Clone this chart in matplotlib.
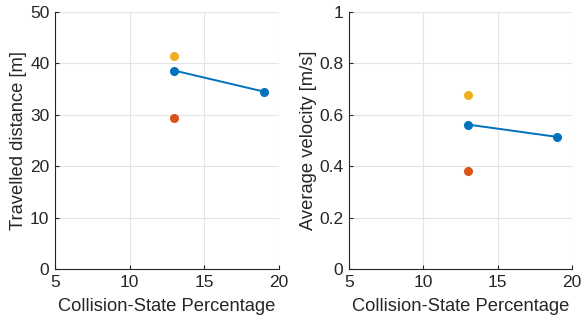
import matplotlib
matplotlib.use("Agg")
import matplotlib.pyplot as plt

# collision-state percentage vs. travelled distance / average velocity
blue_x = [13, 19]
blue_dist = [38.6, 34.5]
blue_vel = [0.562, 0.514]

yellow_x = [13]
yellow_dist = [41.4]
yellow_vel = [0.676]

red_x = [13]
red_dist = [29.4]
red_vel = [0.383]

c_blue = "#0072BD"
c_red = "#D95319"
c_yellow = "#EDB120"

plt.rcParams["font.family"] = ["Liberation Sans", "DejaVu Sans"]

fig = plt.figure(figsize=(5.84, 3.27), dpi=100)
W, H = 584, 327
ax1 = fig.add_axes([55 / W, 1 - 269 / H, 224 / W, 257 / H])
ax2 = fig.add_axes([349 / W, 1 - 269 / H, 223 / W, 257 / H])


def style(ax):
    ax.set_xlim(5, 20)
    ax.set_xticks([5, 10, 15, 20])
    ax.grid(True, color="#e3e3e3", linewidth=0.8)
    ax.set_axisbelow(True)
    for s in ["top", "right"]:
        ax.spines[s].set_visible(False)
    for s in ["left", "bottom"]:
        ax.spines[s].set_color("#262626")
        ax.spines[s].set_linewidth(0.8)
    ax.tick_params(direction="in", length=3, color="#262626",
                   labelcolor="#262626", labelsize=12.5, pad=4)
    ax.set_xlabel("Collision-State Percentage", color="#262626",
                  fontsize=13.2, labelpad=6)


ax1.plot(blue_x, blue_dist, "-o", color=c_blue, lw=1.4, ms=5.5)
ax1.plot(yellow_x, yellow_dist, "o", color=c_yellow, ms=5.5)
ax1.plot(red_x, red_dist, "o", color=c_red, ms=5.5)
style(ax1)
ax1.set_ylim(0, 50)
ax1.set_yticks([0, 10, 20, 30, 40, 50])
ax1.set_ylabel("Travelled distance [m]", color="#262626", fontsize=13.2,
               labelpad=2)

ax2.plot(blue_x, blue_vel, "-o", color=c_blue, lw=1.4, ms=5.5)
ax2.plot(yellow_x, yellow_vel, "o", color=c_yellow, ms=5.5)
ax2.plot(red_x, red_vel, "o", color=c_red, ms=5.5)
style(ax2)
ax2.set_ylim(0, 1)
ax2.set_yticks([0, 0.2, 0.4, 0.6, 0.8, 1])
ax2.set_yticklabels(["0", "0.2", "0.4", "0.6", "0.8", "1"])
ax2.set_ylabel("Average velocity [m/s]", color="#262626", fontsize=13.2,
               labelpad=2)

fig.savefig("out.png", dpi=100)
